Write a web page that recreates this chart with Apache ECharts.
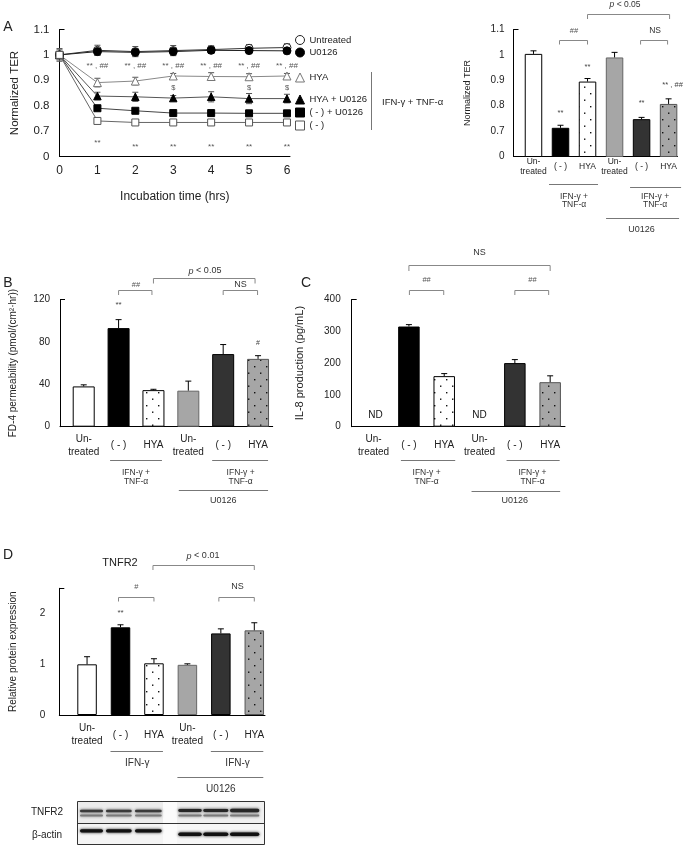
<!DOCTYPE html>
<html><head><meta charset="utf-8">
<script src="https://cdn.jsdelivr.net/npm/echarts@6/dist/echarts.min.js"></script>
<style>html,body{margin:0;padding:0;background:#fff}#c{width:683px;height:845px}</style>
</head><body><div id="c"></div>
<script>
// ---------------- DATA ----------------
const timeHrs = [0, 1, 2, 3, 4, 5, 6];
const terUntreated    = [1.000, 1.018, 1.013, 1.017, 1.021, 1.026, 1.029];
const terUntreatedErr = [0.025, 0.02, 0.02, 0.02, 0.015, 0.015, 0.015];
const terU0126        = [1.000, 1.013, 1.010, 1.013, 1.018, 1.017, 1.016];
const terU0126Err     = [0.02, 0.015, 0.015, 0.015, 0.012, 0.012, 0.012];
const terHYA          = [1.000, 0.891, 0.897, 0.917, 0.915, 0.914, 0.917];
const terHYAErr       = [0.01, 0.017, 0.015, 0.01, 0.015, 0.012, 0.01];
const terHYAU0126     = [1.000, 0.838, 0.835, 0.830, 0.835, 0.828, 0.828];
const terHYAU0126Err  = [0.01, 0.015, 0.018, 0.01, 0.02, 0.02, 0.017];
const terNegU0126     = [1.000, 0.790, 0.780, 0.771, 0.771, 0.770, 0.770];
const terNegU0126Err  = [0.01, 0.005, 0.005, 0.005, 0.005, 0.005, 0.005];
const terNeg          = [1.000, 0.740, 0.734, 0.734, 0.734, 0.734, 0.734];
const terNegErr       = [0.01, 0.008, 0.01, 0.01, 0.01, 0.01, 0.01];
const terTicks = ['0', '0.7', '0.8', '0.9', '1', '1.1'];

const barCats = ['Un-\ntreated', '( - )', 'HYA', 'Un-\ntreated', '( - )', 'HYA'];
const terBar     = [1.004, 0.713, 0.895, 0.990, 0.747, 0.807];
const terBarErr  = [0.012, 0.010, 0.012, 0.020, 0.007, 0.020];
const fd4        = [38, 93, 34.5, 34, 68.5, 64];
const fd4Err     = [1.5, 8, 0.8, 9, 9, 3];
const il8        = [null, 315, 159, null, 200, 140];
const il8Err     = [0, 6, 8, 0, 11, 20];
const tnfr2      = [1.00, 1.73, 1.02, 0.99, 1.61, 1.67];
const tnfr2Err   = [0.15, 0.05, 0.09, 0.02, 0.09, 0.15];

// ---------------- STYLE ----------------
const FF = '"Liberation Sans", Arial, Helvetica, sans-serif';
function dots(bg) {
  const c = document.createElement('canvas'); c.width = 12; c.height = 13;
  const g = c.getContext('2d'); g.fillStyle = bg; g.fillRect(0, 0, 12, 13);
  g.fillStyle = '#111'; g.fillRect(2, 2, 1.4, 1.4); g.fillRect(8, 8.5, 1.4, 1.4);
  return c;
}
const barStyles = [
  {color: '#fff', borderColor: '#000', borderWidth: 1},
  {color: '#000', borderColor: '#000', borderWidth: 1},
  {color: {image: dots('#fff'), repeat: 'repeat'}, borderColor: '#000', borderWidth: 1},
  {color: '#a6a6a6', borderColor: '#666', borderWidth: 1},
  {color: '#333', borderColor: '#000', borderWidth: 1},
  {color: {image: dots('#a6a6a6'), repeat: 'repeat'}, borderColor: '#555', borderWidth: 1}
];

const chart = echarts.init(document.getElementById('c'));

function errRender(twoSided, cap, color) {
  return function (params, api) {
    const x = api.value(0), y = api.value(1), e = api.value(2);
    const top = api.coord([x, y + e]);
    const base = api.coord([x, twoSided ? y - e : y]);
    const st = {stroke: color, lineWidth: 1};
    const ch = [
      {type: 'line', shape: {x1: top[0], y1: top[1], x2: base[0], y2: base[1]}, style: st},
      {type: 'line', shape: {x1: top[0] - cap / 2, y1: top[1], x2: top[0] + cap / 2, y2: top[1]}, style: st}
    ];
    if (twoSided) ch.push({type: 'line', shape: {x1: base[0] - cap / 2, y1: base[1], x2: base[0] + cap / 2, y2: base[1]}, style: st});
    return {type: 'group', children: ch};
  };
}

const lineDefs = [
  {name: 'Untreated', v: terUntreated, e: terUntreatedErr, sym: 'circle', size: 8, fill: '#fff', stroke: '#222', lc: '#333'},
  {name: 'U0126', v: terU0126, e: terU0126Err, sym: 'circle', size: 8, fill: '#000', stroke: '#000', lc: '#222'},
  {name: 'HYA', v: terHYA, e: terHYAErr, sym: 'triangle', size: 8, fill: '#fff', stroke: '#777', lc: '#888'},
  {name: 'HYA + U0126', v: terHYAU0126, e: terHYAU0126Err, sym: 'triangle', size: 7.5, fill: '#000', stroke: '#000', lc: '#555'},
  {name: '( - ) + U0126', v: terNegU0126, e: terNegU0126Err, sym: 'rect', size: 7, fill: '#000', stroke: '#000', lc: '#444'},
  {name: '( - )', v: terNeg, e: terNegErr, sym: 'rect', size: 7, fill: '#fff', stroke: '#555', lc: '#666'}
];

const series = [];
lineDefs.forEach((d, k) => {
  series.push({
    type: 'line', name: d.name, xAxisIndex: 0, yAxisIndex: 0, clip: false,
    data: timeHrs.map((t, i) => [t, d.v[i]]),
    symbol: d.sym, symbolSize: d.size, itemStyle: {color: d.fill, borderColor: d.stroke, borderWidth: 1},
    lineStyle: {color: d.lc, width: 1}, z: 3 + k
  });
});
const lineErr = [];
lineDefs.forEach(d => timeHrs.forEach((t, i) => lineErr.push([t, d.v[i], d.e[i]])));
series.push({type: 'custom', xAxisIndex: 0, yAxisIndex: 0, data: lineErr, renderItem: errRender(true, 6, '#555'), z: 2, clip: false});

function barSeries(axis, vals, errs, bw) {
  const data = [];
  vals.forEach((v, i) => { if (v != null) data.push({value: [i + 1, v], itemStyle: barStyles[i]}); });
  const ed = [];
  vals.forEach((v, i) => { if (v != null) ed.push([i + 1, v, errs[i]]); });
  series.push({type: 'bar', xAxisIndex: axis, yAxisIndex: axis, data, barWidth: bw, clip: true, z: 2});
  series.push({type: 'custom', xAxisIndex: axis, yAxisIndex: axis, data: ed, renderItem: errRender(false, 6, '#000'), z: 5});
}
barSeries(1, terBar, terBarErr, 17.5);
barSeries(2, fd4, fd4Err, 22);
barSeries(3, il8, il8Err, 21.5);
barSeries(4, tnfr2, tnfr2Err, 19.5);

const axLine = {onZero: false, lineStyle: {color: '#000', width: 1}};
const terFmt = v => terTicks[Math.round((v - 0.6) * 10)];
function catX(grid, min, max, fs, lh, margin) {
  return {gridIndex: grid, type: 'value', min, max, axisLine: axLine, axisTick: {show: false}, splitLine: {show: false},
    axisLabel: {customValues: [1, 2, 3, 4, 5, 6], formatter: v => barCats[Math.round(v) - 1], fontSize: fs, lineHeight: lh,
      verticalAlign: 'middle', margin, color: '#222', fontFamily: FF}};
}
function valY(grid, min, max, interval, fs, margin, name, nfs, gap, fmt, labels) {
  const lab = {fontSize: fs, margin, color: '#222', fontFamily: FF};
  if (fmt) lab.formatter = fmt;
  if (labels) lab.customValues = labels;
  return {gridIndex: grid, type: 'value', min, max, interval, axisLine: axLine, splitLine: {show: false},
    axisTick: {customValues: [max], inside: true, length: 5, lineStyle: {color: '#000'}},
    axisLabel: lab, name, nameLocation: 'middle', nameRotate: 90, nameGap: gap,
    nameTextStyle: {fontSize: nfs, color: '#222', fontFamily: FF}};
}
const legStyle = {left: 295, orient: 'vertical', padding: 0, itemWidth: 9, itemHeight: 9,
  itemStyle: {borderWidth: 1}, textStyle: {fontSize: 9.5, color: '#222'}};

const option = {
  animation: false,
  textStyle: {fontFamily: FF},
  grid: [
    {left: 59.5, top: 29.5, width: 230.5, height: 127},
    {left: 513.5, top: 29.5, width: 164, height: 127},
    {left: 60, top: 299.5, width: 212.7, height: 127.2},
    {left: 351.7, top: 299.5, width: 213.3, height: 127.2},
    {left: 59.3, top: 588.3, width: 205.7, height: 126.7}
  ],
  xAxis: [
    {gridIndex: 0, type: 'value', min: 0, max: 6.08, axisLine: axLine, axisTick: {show: false}, splitLine: {show: false},
      axisLabel: {customValues: timeHrs, fontSize: 12, margin: 8, color: '#222', fontFamily: FF},
      name: 'Incubation time (hrs)', nameLocation: 'middle', nameGap: 34, nameTextStyle: {fontSize: 12, color: '#222', fontFamily: FF}},
    catX(1, 0.26, 6.33, 8.5, 10, 10.5),
    catX(2, 0.32, 6.42, 10, 13, 19),
    catX(3, 0.38, 6.42, 10, 13, 19),
    catX(4, 0.17, 6.32, 10, 13, 20)
  ],
  yAxis: [
    valY(0, 0.6, 1.1, 0.1, 11.5, 10, 'Normalized TER', 11.5, 39, terFmt),
    valY(1, 0.6, 1.1, 0.1, 10, 9, 'Normalized TER', 9, 41, terFmt),
    valY(2, 0, 120, 40, 10, 10, 'FD-4 permeability (pmol/(cm²·hr))', 10, 42),
    valY(3, 0, 400, 100, 10, 11, 'IL-8 production (pg/mL)', 11, 46),
    valY(4, 0, 2.5, 1, 10, 14, 'Relative protein expression', 10, 41, null, [0, 1, 2])
  ],
  legend: [
    Object.assign({top: 35, itemGap: 2.5, data: [{name: 'Untreated', icon: 'circle'}, {name: 'U0126', icon: 'circle'}]}, legStyle),
    Object.assign({top: 72.5, itemGap: 2, data: [{name: 'HYA', icon: 'triangle'}]}, legStyle),
    Object.assign({top: 94.5, itemGap: 3, data: [{name: 'HYA + U0126', icon: 'triangle'}, {name: '( - ) + U0126', icon: 'rect'}, {name: '( - )', icon: 'rect'}]}, legStyle)
  ],
  series
};
chart.setOption(option);

// ---------------- ANNOTATIONS ----------------
const px = (g, x, y) => chart.convertToPixel({gridIndex: g}, [x, y]);
const cx = (g, i) => px(g, i, 0)[0];
const G = [];
const T = (x, y, text, size, extra) => G.push({type: 'text', x, y, z: 10,
  style: Object.assign({text, fontSize: size, fontFamily: FF, fill: '#333', align: 'center', verticalAlign: 'middle'}, extra || {})});
const L = (x1, y1, x2, y2, color) => G.push({type: 'line', z: 10, shape: {x1, y1, x2, y2}, style: {stroke: color || '#777', lineWidth: 1}});
const BR = (x1, x2, y, t) => G.push({type: 'polyline', z: 10, shape: {points: [[x1, y + t], [x1, y], [x2, y], [x2, y + t]]}, style: {stroke: '#888', lineWidth: 1, fill: null}});
const P = (x, y, txt, size) => T(x, y, '{i|p} ' + txt, size, {rich: {i: {fontStyle: 'italic', fontSize: size, fontFamily: FF, fill: '#333'}}});
const mid = (a, b) => (a + b) / 2;

// panel letters
T(8, 27, 'A', 14, {fill: '#222'}); T(8, 283, 'B', 14, {fill: '#222'});
T(306, 283, 'C', 14, {fill: '#222'}); T(8, 555, 'D', 14, {fill: '#222'});

// A left annotations
[1, 2, 3, 4, 5, 6].forEach(t => T(cx(0, t), 66, '** , ##', 8, {fill: '#555'}));
[3, 5, 6].forEach(t => T(cx(0, t), 88, '$', 7.5, {fill: '#555'}));
[1, 2, 3, 4, 5, 6].forEach(t => T(cx(0, t), t === 1 ? 143 : 147, '**', 8, {fill: '#555'}));
L(371.5, 72, 371.5, 130, '#777');
T(382, 102, 'IFN-γ + TNF-α', 9.5, {align: 'left', fill: '#222'});

// A right
let a = cx(1, 2), b = cx(1, 3), c = cx(1, 5), d = cx(1, 6);
BR(b, d + 1, 14.5, 4.5); P(mid(b, d) - 3, 5, '< 0.05', 8.5);
BR(a - 1, b, 40.5, 4); T(mid(a, b), 31, '##', 7.5, {fill: '#555'});
BR(c - 1, d - 1, 40.5, 4); T(mid(c, d), 31, 'NS', 8.5);
T(a, 112.7, '**', 7.5, {fill: '#444'}); T(b, 67.3, '**', 7.5, {fill: '#444'});
T(c, 102.7, '**', 7.5, {fill: '#444'}); T(d + 4, 85, '** , ##', 7.5, {fill: '#444'});
L(a - 11.5, 184.5, b + 10.5, 184.5); T(mid(a, b), 200.5, 'IFN-γ +\nTNF-α', 8.5, {lineHeight: 8.5});
L(c - 11.5, 187.5, d + 12.5, 187.5); T(mid(c, d), 200.5, 'IFN-γ +\nTNF-α', 8.5, {lineHeight: 8.5});
L(cx(1, 4) - 8.5, 218.5, d + 10.5, 218.5); T(mid(cx(1, 4), d), 229.5, 'U0126', 9);

// B
a = cx(2, 2); b = cx(2, 3); c = cx(2, 5); d = cx(2, 6);
BR(b, d - 3, 278.5, 5); P(205, 271, '< 0.05', 9);
BR(a, b - 1.5, 290.5, 4.5); T(mid(a, b), 284.5, '##', 7.5, {fill: '#555'});
BR(c, d - 0.5, 290.5, 4.5); T(mid(c, d), 284.5, 'NS', 9);
T(a, 305, '**', 8, {fill: '#444'}); T(d, 343, '#', 7, {fill: '#444'});
L(a - 8.5, 460.5, b + 8.5, 460.5); T(mid(a, b), 477, 'IFN-γ +\nTNF-α', 8.5, {lineHeight: 9.5});
L(c - 11, 460.5, d + 10, 460.5); T(mid(c, d), 477, 'IFN-γ +\nTNF-α', 8.5, {lineHeight: 9.5});
L(cx(2, 4) - 9.5, 490.5, d + 10, 490.5); T(mid(cx(2, 4), d), 501, 'U0126', 9);

// C
a = cx(3, 2); b = cx(3, 3); c = cx(3, 5); d = cx(3, 6);
BR(a, d, 265.5, 5.5); T(mid(a, d), 253, 'NS', 9);
BR(a + 0.5, b - 0.5, 290.5, 4.5); T(mid(a, b), 280, '##', 7.5, {fill: '#555'});
BR(c, d - 1.5, 290.5, 4.5); T(mid(c, d), 280, '##', 7.5, {fill: '#555'});
T(cx(3, 1) + 2, 415, 'ND', 10, {fill: '#111'}); T(cx(3, 4), 415, 'ND', 10, {fill: '#111'});
L(a - 8, 460.5, b + 11, 460.5); T(mid(a, b), 477, 'IFN-γ +\nTNF-α', 8.5, {lineHeight: 9.5});
L(c - 8.3, 460.5, d + 9.5, 460.5); T(mid(c, d), 477, 'IFN-γ +\nTNF-α', 8.5, {lineHeight: 9.5});
L(cx(3, 4) - 8, 491.5, d + 10, 491.5); T(mid(cx(3, 4), d), 501, 'U0126', 9);

// D
a = cx(4, 2); b = cx(4, 3); c = cx(4, 5); d = cx(4, 6);
T(120, 563, 'TNFR2', 11, {fill: '#222'});
BR(b - 1, d, 565.5, 4.5); P(203, 556, '< 0.01', 9);
BR(a - 2, b, 597.5, 4); T(mid(a, b) - 1, 587, '#', 7.5, {fill: '#555'});
BR(c - 2, d, 597.5, 4); T(mid(c, d), 587, 'NS', 9);
T(a, 613, '**', 8, {fill: '#444'});
L(a - 10, 751.5, b + 9, 751.5); T(mid(a, b), 763, 'IFN-γ', 10);
L(c - 10, 751.5, d + 9, 751.5); T(mid(c, d), 763, 'IFN-γ', 10);
L(cx(4, 4) - 10, 777.5, d + 9, 777.5); T(mid(cx(4, 4), d), 789, 'U0126', 10);

// Western blot (illustration)
G.push({type: 'rect', z: 9, shape: {x: 77.5, y: 801.5, width: 187, height: 43}, style: {fill: '#fbfbfb', stroke: '#333', lineWidth: 1}});
G.push({type: 'rect', z: 9, shape: {x: 78, y: 802, width: 85, height: 21}, style: {fill: '#ececec'}});
G.push({type: 'rect', z: 9, shape: {x: 177, y: 802, width: 87, height: 21}, style: {fill: '#f0f0f0'}});
G.push({type: 'rect', z: 9, shape: {x: 78, y: 824, width: 85, height: 20}, style: {fill: '#f4f4f4'}});
G.push({type: 'rect', z: 9, shape: {x: 177, y: 824, width: 87, height: 20}, style: {fill: '#f6f6f6'}});
L(77.5, 823.5, 264.5, 823.5, '#333');
const band = (x1, x2, y, h, color, blur) => G.push({type: 'rect', z: 11, shape: {x: x1, y: y - h / 2, width: x2 - x1, height: h, r: h / 2},
  style: {fill: color, shadowBlur: blur, shadowColor: color}});
const lanesL = [[80, 103], [106, 131.7], [135, 161.7]];
const lanesR = [[178.3, 201.7], [203.3, 228.3], [230, 259.3]];
lanesL.forEach(l => { band(l[0], l[1], 811, 2.6, '#3a3a3a', 3); band(l[0], l[1], 815.5, 2, '#7a7a7a', 3); band(l[0], l[1], 830.8, 3.2, '#111', 3); });
lanesR.forEach((l, k) => { band(l[0], l[1], 810.5, k === 2 ? 3.4 : 2.8, '#262626', 3); band(l[0], l[1], 815.5, 2, '#7a7a7a', 3); band(l[0], l[1], 834.3, 3.6, '#111', 3); });
T(47, 812.5, 'TNFR2', 10, {fill: '#222'});
T(47, 835, 'β-actin', 10, {fill: '#222'});

chart.setOption({graphic: {elements: G}});
</script>
</body></html>
